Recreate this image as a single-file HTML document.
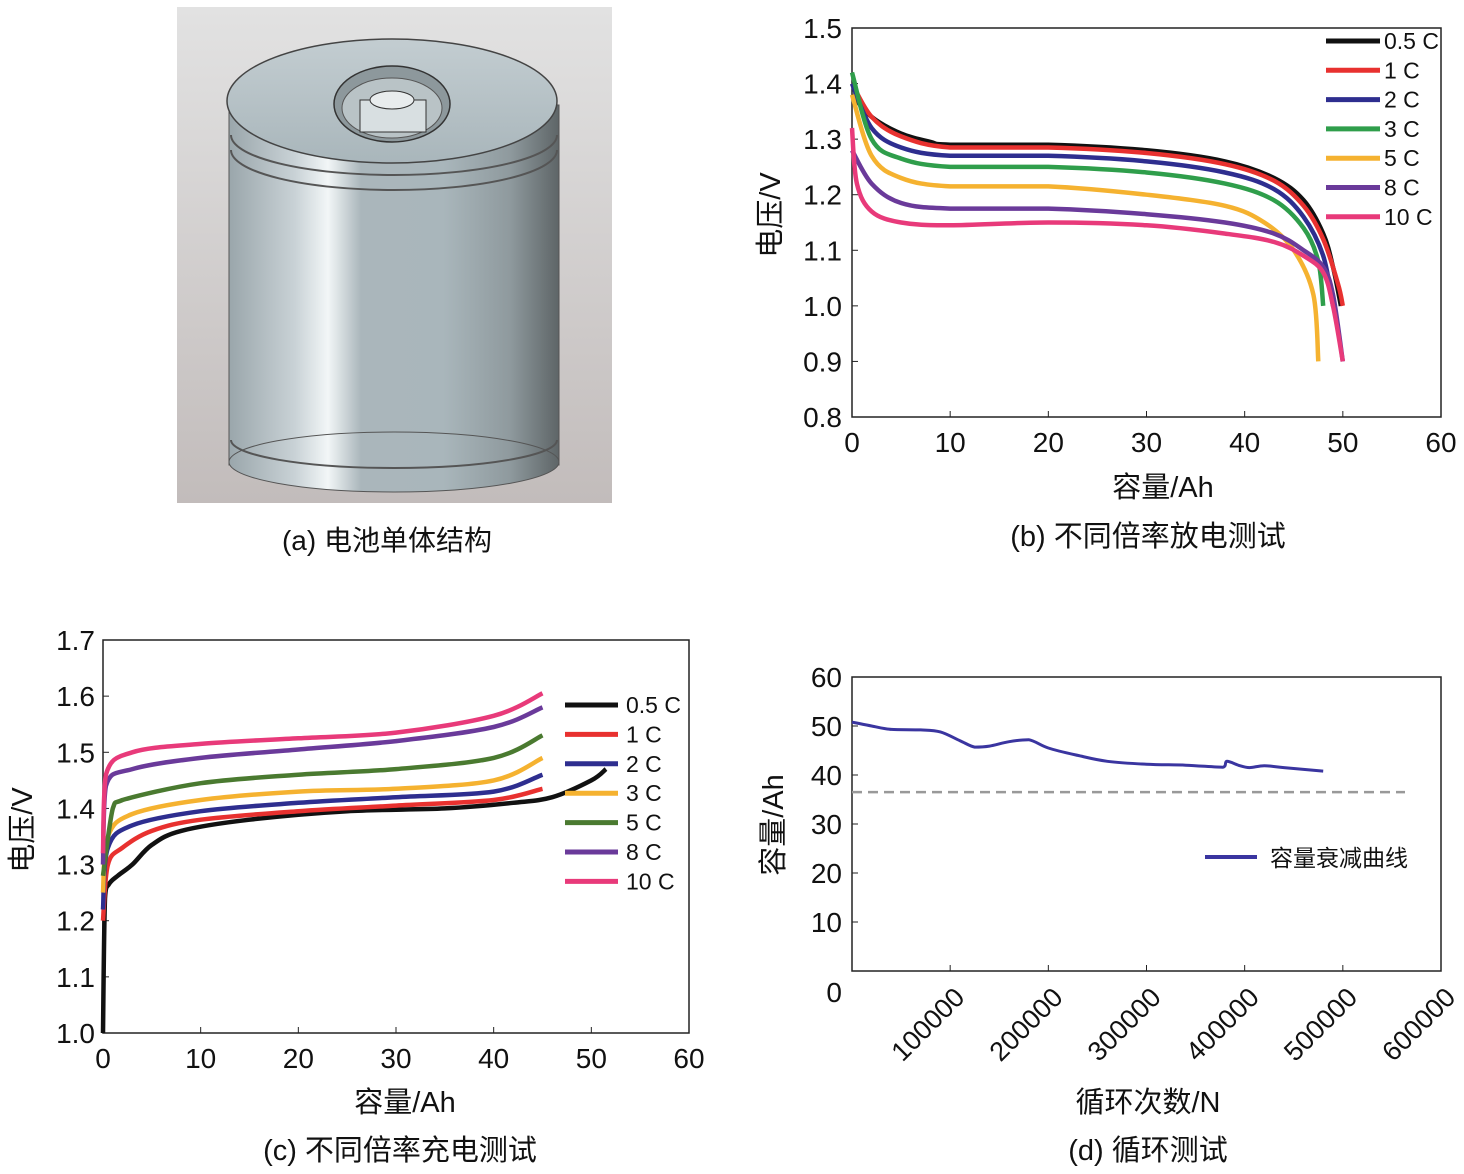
<!DOCTYPE html>
<html><head><meta charset="utf-8"><style>
html,body{margin:0;padding:0;background:#fff;}
svg{display:block;}
text{font-family:"Liberation Sans","Noto Sans CJK SC",sans-serif;fill:#111;}
</style></head><body>
<svg id="root" width="1464" height="1174" viewBox="0 0 1464 1174" xmlns="http://www.w3.org/2000/svg">
<defs>
<linearGradient id="bg" x1="0" y1="0" x2="0" y2="1"><stop offset="0" stop-color="#e2e2e2"/><stop offset="1" stop-color="#c2bcbb"/></linearGradient>
<linearGradient id="body" x1="0" y1="0" x2="1" y2="0">
<stop offset="0" stop-color="#9aa6ab"/><stop offset="0.2" stop-color="#c9d2d6"/><stop offset="0.3" stop-color="#f2f6f7"/><stop offset="0.4" stop-color="#aab6bb"/><stop offset="0.65" stop-color="#a9b6bb"/><stop offset="0.85" stop-color="#8f9a9e"/><stop offset="1" stop-color="#5e6567"/></linearGradient>
<linearGradient id="top" x1="0" y1="0" x2="0" y2="1"><stop offset="0" stop-color="#c3cdd1"/><stop offset="1" stop-color="#a9b6bb"/></linearGradient>
</defs>

<g>
<rect x="177" y="7" width="435" height="496" fill="url(#bg)"/>
<rect x="229" y="105" width="330" height="360" fill="url(#body)" stroke="#555" stroke-width="1"/>
<ellipse cx="394" cy="462" rx="165" ry="30" fill="url(#body)" stroke="#555"/>
<path d="M231 440 A163 28 0 0 0 557 440" fill="none" stroke="#555" stroke-width="2"/>
<path d="M231 135 A163 40 0 0 0 557 135" fill="none" stroke="#555" stroke-width="2"/>
<path d="M231 150 A163 40 0 0 0 557 150" fill="none" stroke="#555" stroke-width="2"/>
<ellipse cx="392" cy="101" rx="165" ry="62" fill="url(#top)" stroke="#444" stroke-width="1.5"/>
<ellipse cx="392" cy="104" rx="58" ry="38" fill="#8d989c" stroke="#333" stroke-width="1.5"/>
<ellipse cx="392" cy="108" rx="50" ry="30" fill="#b9c3c6" stroke="#555"/>
<rect x="360" y="100" width="66" height="32" fill="#d8dfe1" stroke="#333"/>
<ellipse cx="392" cy="100" rx="22" ry="9" fill="#e8eced" stroke="#333"/>
</g>
<text x="387" y="550" font-size="28" text-anchor="middle">(a) 电池单体结构</text>

<g id="pb"></g>
<g id="pc"></g>
<g id="pd"></g>
</svg>
<script>
const NS="http://www.w3.org/2000/svg";
function mk(p,tag,at,txt){const e=document.createElementNS(NS,tag);for(const k in at)e.setAttribute(k,at[k]);if(txt!==undefined)e.textContent=txt;p.appendChild(e);return e;}
function cl(v,a,b){const lo=Math.min(a,b),hi=Math.max(a,b);return Math.max(lo,Math.min(hi,v));}
function smooth(pts){let d="M"+pts[0][0].toFixed(1)+" "+pts[0][1].toFixed(1);
for(let i=0;i<pts.length-1;i++){const p0=pts[Math.max(0,i-1)],p1=pts[i],p2=pts[i+1],p3=pts[Math.min(pts.length-1,i+2)];
const c1=[cl(p1[0]+(p2[0]-p0[0])/6,p1[0],p2[0]),cl(p1[1]+(p2[1]-p0[1])/6,p1[1],p2[1])],c2=[cl(p2[0]-(p3[0]-p1[0])/6,p1[0],p2[0]),cl(p2[1]-(p3[1]-p1[1])/6,p1[1],p2[1])];
d+=" C"+c1[0].toFixed(1)+" "+c1[1].toFixed(1)+" "+c2[0].toFixed(1)+" "+c2[1].toFixed(1)+" "+p2[0].toFixed(1)+" "+p2[1].toFixed(1);}return d;}

const bRates=["0.5 C","1 C","2 C","3 C","5 C","8 C","10 C"];
const bColors=["#111111","#e8312f","#2e2e8f","#2f9e4b","#f5b230","#6a3a9a","#e83a7a"];
const bCap=[
[0,2,5,8,10,20,30,38,43,46,48,49,49.8],
[0,2,5,10,20,30,38,43,46,48,49.5,50],
[0,2,5,10,20,30,38,43,46,48,49],
[0,2,5,10,20,30,38,43,46,47.5,48],
[0,2,5,10,20,30,38,42,45,47,47.5],
[0,2,5,10,20,30,38,43,46,48,49,50],
[0,0.5,2,5,10,20,30,38,43,46,48,49,50]];
const bVolt=[
[1.38,1.34,1.31,1.295,1.29,1.29,1.28,1.26,1.23,1.19,1.13,1.07,1.0],
[1.40,1.34,1.305,1.285,1.285,1.275,1.255,1.225,1.18,1.12,1.04,1.0],
[1.40,1.32,1.285,1.27,1.27,1.26,1.24,1.21,1.16,1.09,1.0],
[1.42,1.30,1.265,1.25,1.25,1.24,1.22,1.19,1.14,1.08,1.0],
[1.38,1.27,1.23,1.215,1.215,1.2,1.18,1.15,1.1,1.02,0.9],
[1.28,1.22,1.185,1.175,1.175,1.165,1.15,1.13,1.1,1.07,1.02,0.9],
[1.32,1.22,1.17,1.15,1.145,1.15,1.145,1.13,1.115,1.09,1.06,1.0,0.9]];
const bXTicks=[0,10,20,30,40,50,60];
const bYTicks=["0.8","0.9","1.0","1.1","1.2","1.3","1.4","1.5"];

const cRates=["0.5 C","1 C","2 C","3 C","5 C","8 C","10 C"];
const cColors=["#111111","#e8312f","#2e2e8f","#f5b230","#4a7a30","#6a3a9a","#e83a7a"];
const cCap=[
[0,0.2,0.6,1.5,3,5,8,15,25,35,42,46,50,51.5],
[0,0.5,2,5,10,20,30,40,45],
[0,0.5,3,10,20,30,40,45],
[0,0.5,3,10,20,30,40,45],
[0,1,2,10,20,30,40,45],
[0,0.3,3,10,20,30,40,45],
[0,0.3,3,10,20,30,40,45]];
const cVolt=[
[1.0,1.24,1.265,1.28,1.3,1.335,1.36,1.38,1.395,1.4,1.41,1.42,1.45,1.47],
[1.2,1.3,1.33,1.36,1.38,1.395,1.405,1.415,1.435],
[1.22,1.33,1.37,1.395,1.41,1.42,1.43,1.46],
[1.25,1.35,1.39,1.415,1.43,1.435,1.45,1.49],
[1.28,1.40,1.415,1.445,1.46,1.47,1.49,1.53],
[1.3,1.44,1.47,1.49,1.505,1.52,1.545,1.58],
[1.32,1.46,1.5,1.515,1.525,1.535,1.565,1.605]];
const cXTicks=[0,10,20,30,40,50,60];
const cYTicks=["1.0","1.1","1.2","1.3","1.4","1.5","1.6","1.7"];

const dCycles=[0,20000,40000,70000,90000,110000,125000,140000,160000,180000,200000,230000,260000,300000,340000,378000,382000,395000,405000,420000,440000,480000];
const dCapacity=[50.8,50,49.3,49.2,48.8,47,45.7,45.9,46.8,47.2,45.5,44,42.8,42.2,42,41.6,42.8,41.9,41.5,41.9,41.5,40.8];
const dThreshold=36.5;
const dXTicks=[100000,200000,300000,400000,500000,600000];
const dYTicks=[10,20,30,40,50,60];

function axesBox(g,x0,y0,x1,y1){mk(g,"rect",{x:x0,y:y0,width:x1-x0,height:y1-y0,fill:"none",stroke:"#222","stroke-width":1.5});}

(function(){
const g=document.getElementById("pb");
const X0=852,X1=1441,Y0=28,Y1=417;
const sx=v=>X0+(v-0)/60*(X1-X0), sy=v=>Y1-(v-0.8)/0.7*(Y1-Y0);
axesBox(g,X0,Y0,X1,Y1);
bXTicks.forEach(t=>{mk(g,"line",{x1:sx(t),x2:sx(t),y1:Y1,y2:Y1-6,stroke:"#222"});
const e=mk(g,"text",{x:sx(t),y:Y1+35,"font-size":28,"text-anchor":"middle"},String(t));

});
bYTicks.forEach(t=>{const v=parseFloat(t);mk(g,"line",{x1:X0,x2:X0+6,y1:sy(v),y2:sy(v),stroke:"#222"});
const e=mk(g,"text",{x:X0-10,y:sy(v)+10,"font-size":28,"text-anchor":"end"},t);

});
bCap.forEach((xs,i)=>{const p=mk(g,"path",{d:smooth(xs.map((x,j)=>[sx(x),sy(bVolt[i][j])])),fill:"none",stroke:bColors[i],"stroke-width":4.5,"stroke-linejoin":"round"});

});
bRates.forEach((r,i)=>{const y=41+i*29.3;
mk(g,"line",{x1:1326,x2:1380,y1:y,y2:y,stroke:bColors[i],"stroke-width":5});
const e=mk(g,"text",{x:1384,y:y+8,"font-size":23},r);

});
const yt=mk(g,"text",{x:0,y:0,"font-size":29,"text-anchor":"middle",transform:"translate(780,215) rotate(-90)"},"电压/V");

const xt=mk(g,"text",{x:1163,y:497,"font-size":29,"text-anchor":"middle"},"容量/Ah");

const cp=mk(g,"text",{x:1148,y:546,"font-size":29,"text-anchor":"middle"},"(b) 不同倍率放电测试");

})();

(function(){
const g=document.getElementById("pc");
const X0=103,X1=689,Y0=640,Y1=1033;
const sx=v=>X0+v/60*(X1-X0), sy=v=>Y1-(v-1.0)/0.7*(Y1-Y0);
axesBox(g,X0,Y0,X1,Y1);
cXTicks.forEach(t=>{mk(g,"line",{x1:sx(t),x2:sx(t),y1:Y1,y2:Y1-6,stroke:"#222"});
const e=mk(g,"text",{x:sx(t),y:Y1+35,"font-size":28,"text-anchor":"middle"},String(t));

});
cYTicks.forEach(t=>{const v=parseFloat(t);mk(g,"line",{x1:X0,x2:X0+6,y1:sy(v),y2:sy(v),stroke:"#222"});
const e=mk(g,"text",{x:X0-8,y:sy(v)+10,"font-size":28,"text-anchor":"end"},t);

});
cCap.forEach((xs,i)=>{const p=mk(g,"path",{d:smooth(xs.map((x,j)=>[sx(x),sy(cVolt[i][j])])),fill:"none",stroke:cColors[i],"stroke-width":4.5,"stroke-linejoin":"round"});

});
cRates.forEach((r,i)=>{const y=705+i*29.4;
mk(g,"line",{x1:565,x2:618,y1:y,y2:y,stroke:cColors[i],"stroke-width":5});
const e=mk(g,"text",{x:626,y:y+8,"font-size":23},r);

});
const yt=mk(g,"text",{x:0,y:0,"font-size":29,"text-anchor":"middle",transform:"translate(32,830) rotate(-90)"},"电压/V");

const xt=mk(g,"text",{x:405,y:1112,"font-size":29,"text-anchor":"middle"},"容量/Ah");

const cp=mk(g,"text",{x:400,y:1160,"font-size":29,"text-anchor":"middle"},"(c) 不同倍率充电测试");

})();

(function(){
const g=document.getElementById("pd");
const X0=852,X1=1441,Y0=677,Y1=971;
const sx=v=>X0+v/600000*(X1-X0), sy=v=>Y1-v/60*(Y1-Y0);
axesBox(g,X0,Y0,X1,Y1);
dXTicks.forEach(t=>{mk(g,"line",{x1:sx(t),x2:sx(t),y1:Y1,y2:Y1-6,stroke:"#222"});
const e=mk(g,"text",{x:0,y:0,"font-size":27,"text-anchor":"end",transform:"translate("+(sx(t)+16)+","+(Y1+28)+") rotate(-45)"},String(t));

});
dYTicks.forEach(t=>{mk(g,"line",{x1:X0,x2:X0+6,y1:sy(t),y2:sy(t),stroke:"#222"});
const e=mk(g,"text",{x:X0-10,y:sy(t)+10,"font-size":28,"text-anchor":"end"},String(t));

});
const z=mk(g,"text",{x:X0-10,y:1002,"font-size":28,"text-anchor":"end"},"0");

const th=mk(g,"line",{x1:X0,x2:1405,y1:sy(dThreshold),y2:sy(dThreshold),stroke:"#999","stroke-width":2.5,"stroke-dasharray":"10,6"});


const p=mk(g,"path",{d:smooth(dCycles.map((c,j)=>[sx(c),sy(dCapacity[j])])),fill:"none",stroke:"#3a35a0","stroke-width":3});


mk(g,"line",{x1:1205,x2:1257,y1:857,y2:857,stroke:"#3a35a0","stroke-width":4});
const le=mk(g,"text",{x:1270,y:866,"font-size":23},"容量衰减曲线");

const yt=mk(g,"text",{x:0,y:0,"font-size":29,"text-anchor":"middle",transform:"translate(783,825) rotate(-90)"},"容量/Ah");

const xt=mk(g,"text",{x:1148,y:1112,"font-size":29,"text-anchor":"middle"},"循环次数/N");

const cp=mk(g,"text",{x:1148,y:1160,"font-size":29,"text-anchor":"middle"},"(d) 循环测试");

})();
</script>
</body></html>
